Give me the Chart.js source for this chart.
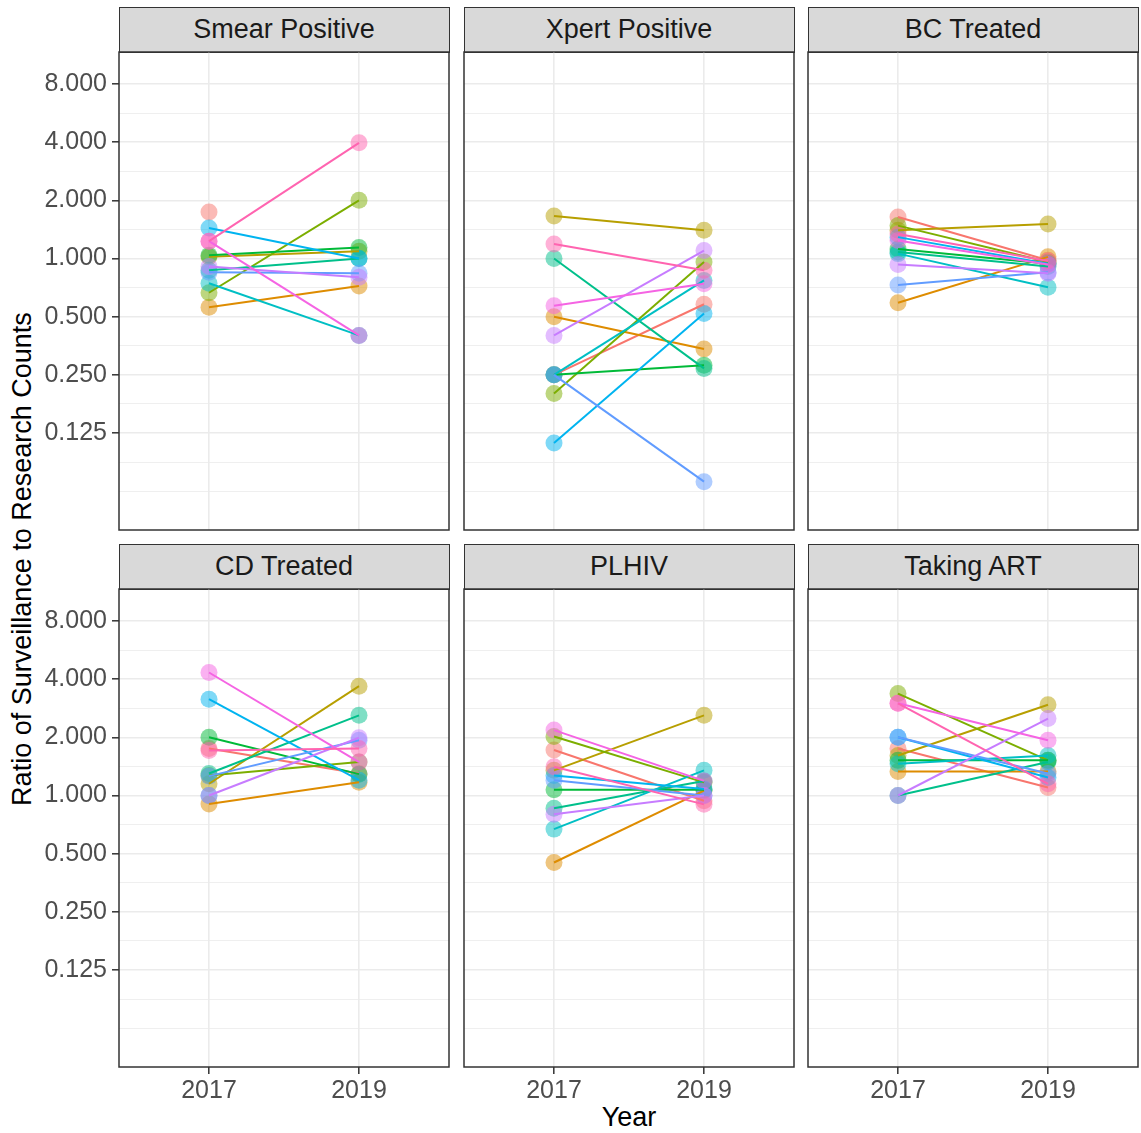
<!DOCTYPE html>
<html>
<head>
<meta charset="utf-8">
<script src="https://cdn.jsdelivr.net/npm/chart.js@4.4.1/dist/chart.umd.min.js"></script>
<style>
  body { margin: 0; background: #fff; width: 1141px; height: 1133px; position: relative; overflow: hidden;
         font-family: "Liberation Sans", Arial, sans-serif; }
  canvas { position: absolute; }
  .strip { position: absolute; box-sizing: border-box; width: 331px; height: 46px; background: #D9D9D9;
           border: 1.5px solid #333; color: #1A1A1A; font-size: 27px; line-height: 43px; text-align: center; }
  .ytitle { position: absolute; left: 22px; top: 559px; transform: translate(-50%, -50%) rotate(-90deg);
            white-space: nowrap; font-size: 27px; color: #000; }
  .xtitle { position: absolute; left: 629px; top: 1117px; transform: translate(-50%, -50%); font-size: 27px; color: #000; }
</style>
</head>
<body>
<div class="ytitle">Ratio of Surveillance to Research Counts</div>
<div class="xtitle">Year</div>
<script>
const years = [2017, 2019];
const panelTitles = ['Smear Positive', 'Xpert Positive', 'BC Treated', 'CD Treated', 'PLHIV', 'Taking ART'];
// ggplot default hue palette, 12 groups
const groupColors = ['#F8766D', '#DE8C00', '#B79F00', '#7CAE00', '#00BA38', '#00C08B',
                     '#00BFC4', '#00B4F0', '#619CFF', '#C77CFF', '#F564E3', '#FF64B0'];
const yTickLabels = ['0.125', '0.250', '0.500', '1.000', '2.000', '4.000', '8.000'];

// ratios per group (same order as groupColors)
const smear2017 = [1.74, 0.56, 1.02, 0.665, 1.04, 0.87, 0.745, 1.44, 0.85, 0.91, 1.23, 1.23];
const smear2019 = [null, 0.72, 1.09, 2.0, 1.14, 1.0, 0.40, 1.0, 0.84, 0.80, 0.40, 3.97];
const xpert2017 = [0.25, 0.50, 1.66, 0.20, 0.25, 1.0, 0.25, 0.111, 0.25, 0.40, 0.57, 1.19];
const xpert2019 = [0.58, 0.34, 1.40, 0.96, 0.28, 0.27, 0.77, 0.52, 0.070, 1.10, 0.74, 0.87];
const bc2017 = [1.64, 0.59, 1.40, 1.48, 1.12, 1.08, 1.06, 1.29, 0.73, 0.93, 1.24, 1.34];
const bc2019 = [0.98, 1.02, 1.51, 0.96, 0.94, 0.91, 0.71, 0.94, 0.85, 0.84, 0.93, 0.97];
const cd2017 = [1.75, 0.905, 1.15, 1.27, 2.0, 1.30, 1.0, 3.15, 1.26, 1.0, 4.33, 1.71];
const cd2019 = [1.30, 1.17, 3.68, 1.49, 1.29, 2.6, null, 1.20, 1.93, 1.99, 1.49, 1.75];
const plhiv2017 = [1.72, 0.45, 1.35, 2.02, 1.07, 0.86, 0.67, 1.27, 1.20, 0.80, 2.18, 1.41];
const plhiv2019 = [0.94, 1.06, 2.6, 1.17, 1.07, 1.19, 1.35, 1.08, 1.0, 1.0, 1.19, 0.90];
const art2017 = [1.75, 1.33, 1.61, 3.37, 1.52, 1.0, 1.46, 2.0, 2.0, 1.0, 3.0, 3.0];
const art2019 = [1.10, 1.33, 2.95, 1.52, 1.52, 1.49, 1.61, 1.24, 1.30, 2.5, 1.93, 1.15];

const panelData = [[smear2017, smear2019], [xpert2017, xpert2019], [bc2017, bc2019],
                   [cd2017, cd2019], [plhiv2017, plhiv2019], [art2017, art2019]];

Chart.defaults.font.family = '"Liberation Sans", Arial, sans-serif';

const panelX = [119, 464, 808];
const panelY = [52, 589];
const stripY = [7, 544];
const panelW = 330, panelH = 478;
const yAxisW = 119, xAxisH = 66;

function alpha(hex, a) {
  const n = parseInt(hex.slice(1), 16);
  return `rgba(${n >> 16},${(n >> 8) & 255},${n & 255},${a})`;
}

const panelBorder = {
  id: 'panelBorder',
  afterDraw(chart) {
    const a = chart.chartArea, c = chart.ctx;
    c.save();
    c.strokeStyle = '#333333';
    c.lineWidth = 1.5;
    c.strokeRect(a.left, a.top, a.right - a.left, a.bottom - a.top);
    c.restore();
  }
};

// log2 grid: majors at -3..3 (labelled), minors at half steps
const yGrid = [];
for (let v = -4; v <= 3; v += 0.5) yGrid.push(v);

function makePanel(p) {
  const col = p % 3, row = Math.floor(p / 3);
  const yW = col === 0 ? yAxisW : 0;
  const xH = row === 1 ? xAxisH : 0;

  const strip = document.createElement('div');
  strip.className = 'strip';
  strip.style.left = (panelX[col] - 0.5) + 'px';
  strip.style.top = stripY[row] + 'px';
  strip.textContent = panelTitles[p];
  document.body.appendChild(strip);

  const cv = document.createElement('canvas');
  cv.width = yW + panelW + 2;
  cv.height = panelH + xH + 2;
  cv.style.left = (panelX[col] - yW - 1) + 'px';
  cv.style.top = (panelY[row] - 1) + 'px';
  document.body.appendChild(cv);

  const [v17, v19] = panelData[p];
  const datasets = [];
  groupColors.forEach((col, i) => {
    const pts = [
      { x: years[0], y: v17[i] == null ? null : Math.log2(v17[i]) },
      { x: years[1], y: v19[i] == null ? null : Math.log2(v19[i]) }
    ];
    datasets.push({
      data: pts, borderColor: col, borderWidth: 2, pointRadius: 0,
      spanGaps: false, order: 11 - i
    });
    datasets.push({
      data: pts, showLine: false, pointRadius: 8.5, pointHoverRadius: 8.5,
      pointBackgroundColor: alpha(col, 0.5), pointBorderWidth: 0, order: 100 + 11 - i
    });
  });

  new Chart(cv, {
    type: 'line',
    data: { datasets },
    plugins: [panelBorder],
    options: {
      responsive: false,
      animation: false,
      events: [],
      layout: { padding: 1, autoPadding: false },
      plugins: { legend: { display: false }, tooltip: { enabled: false } },
      scales: {
        x: {
          type: 'linear', min: 2015.8, max: 2020.2,
          afterBuildTicks: s => { s.ticks = years.map(v => ({ value: v })); },
          afterFit: s => { s.height = xH; s.paddingLeft = 0; s.paddingRight = 0; },
          border: { display: false },
          grid: { color: '#EBEBEB', lineWidth: 1.6, drawTicks: row === 1, tickLength: 7,
                  tickColor: '#333333', tickWidth: 1.5 },
          ticks: { display: row === 1, color: '#4D4D4D', font: { size: 25 }, padding: 2,
                   autoSkip: false, maxRotation: 0, callback: v => String(v) }
        },
        y: {
          type: 'linear', min: -4.667, max: 3.55,
          afterBuildTicks: s => { s.ticks = yGrid.map(v => ({ value: v })); },
          afterFit: s => { s.width = yW; s.paddingTop = 0; s.paddingBottom = 0; },
          border: { display: false },
          grid: {
            color: '#EBEBEB',
            lineWidth: ctx => (Number.isInteger(ctx.tick.value) && ctx.tick.value >= -3) ? 1.6 : 0.8,
            drawTicks: col === 0, tickLength: 7, tickWidth: 1.5,
            tickColor: ctx => (Number.isInteger(ctx.tick.value) && ctx.tick.value >= -3) ? '#333333' : 'rgba(0,0,0,0)'
          },
          ticks: {
            display: col === 0, color: '#4D4D4D', font: { size: 25 }, padding: 5, autoSkip: false,
            callback: v => (Number.isInteger(v) && v >= -3) ? yTickLabels[v + 3] : ''
          }
        }
      }
    }
  });
}

for (let p = 0; p < 6; p++) makePanel(p);
</script>
</body>
</html>
